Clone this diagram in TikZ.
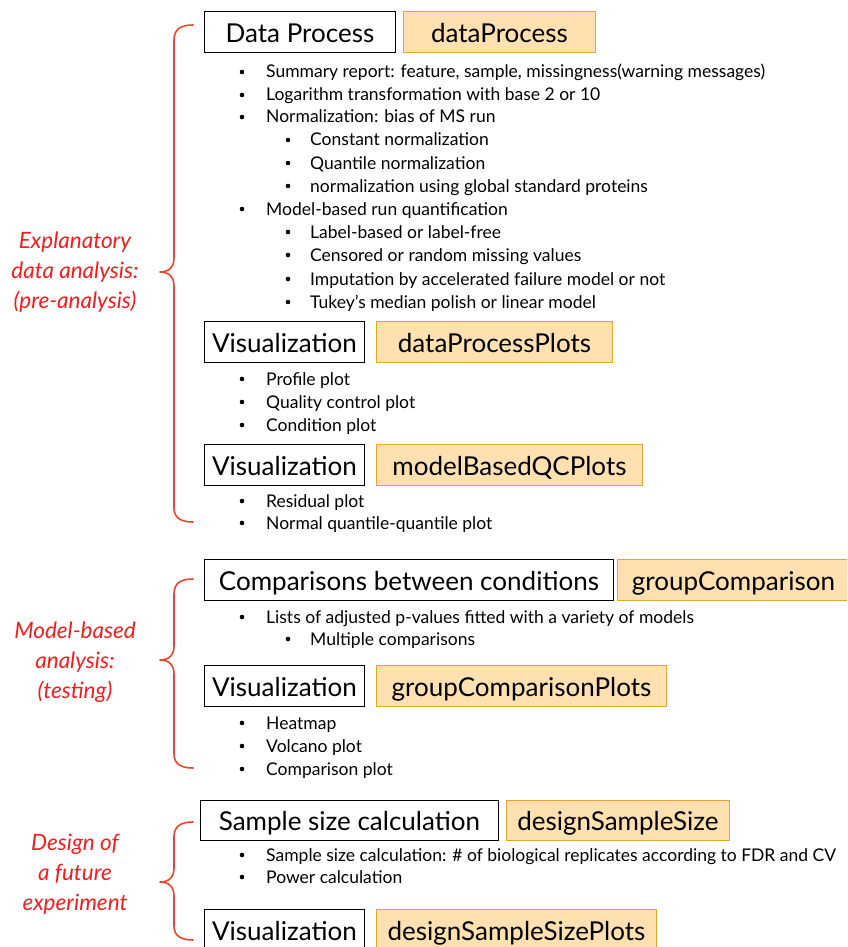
\documentclass[tikz,border=0pt]{standalone}
\usepackage{fontspec}
\setmainfont{Lato}
\definecolor{bracered}{HTML}{E8472B}
\definecolor{labelred}{HTML}{F51C1C}
\definecolor{fnfill}{HTML}{FFE0B0}
\definecolor{fnedge}{HTML}{E4A436}
\tikzset{
  stagebox/.style={draw=black, line width=0.9pt, fill=white, rectangle, anchor=north west,
    inner sep=0pt, font=\fontsize{26}{30}\selectfont, text height=22pt, text depth=1pt},
  fnbox/.style={stagebox, draw=fnedge, fill=fnfill},
  itemtext/.style={anchor=west, inner sep=0pt, font=\fontsize{17.5}{21}\selectfont,
    text height=13.5pt, text depth=3.5pt},
  dot/.style={circle, fill=black, inner sep=0pt, minimum size=4.6pt},
  grouplabel/.style={align=center, text=labelred, inner sep=0pt,
    font=\fontsize{22.5}{30}\selectfont\itshape},
  bracepath/.style={draw=bracered, line width=1.6pt, line cap=round, line join=round}
}
\begin{document}
\begin{tikzpicture}[x=1pt, y=-1pt]
\useasboundingbox (0,0) rectangle (847,947);
\clip (0,0) rectangle (847,947);

% ---------- stage and function boxes ----------
\node[stagebox, minimum width=191pt, minimum height=41pt] (dp) at (204,11) {Data Process};
\node[fnbox, minimum width=192pt, minimum height=41pt] (dpfn) at (403,11) {dataProcess};

\node[stagebox, minimum width=160pt, minimum height=41pt] (vis1) at (204,321) {Visualization};
\node[fnbox, minimum width=236pt, minimum height=41pt] (dppfn) at (376,321) {dataProcessPlots};

\node[stagebox, minimum width=160pt, minimum height=41pt] (vis2) at (204,444) {Visualization};
\node[fnbox, minimum width=266pt, minimum height=41pt] (qcfn) at (376,444) {modelBasedQCPlots};

\node[stagebox, minimum width=409pt, minimum height=41pt] (cmp) at (204,559) {Comparisons between conditions};
\node[fnbox, minimum width=232pt, minimum height=41pt] (gcfn) at (617,559) {groupComparison};

\node[stagebox, minimum width=160pt, minimum height=41pt] (vis3) at (204,665) {Visualization};
\node[fnbox, minimum width=290pt, minimum height=41pt] (gcpfn) at (376,665) {groupComparisonPlots};

\node[stagebox, minimum width=298pt, minimum height=40pt] (ss) at (200,800) {Sample size calculation};
\node[fnbox, minimum width=223pt, minimum height=40pt] (ssfn) at (506,800) {designSampleSize};

\node[stagebox, minimum width=160pt, minimum height=41pt] (vis4) at (204,909) {Visualization};
\node[fnbox, minimum width=280pt, minimum height=41pt] (sspfn) at (376,909) {designSampleSizePlots};

% ---------- bullet lists (level 1: x=242/266, level 2: x=288/310) ----------
\foreach \y/\t [count=\k] in {
  {73/Summary report: feature, sample, missingness(warning messages)},
  {96/Logarithm transformation with base 2 or 10},
  {118/Normalization: bias of MS run},
  {210/Model-based run quantification},
  {380/Profile plot},
  {403/Quality control plot},
  {426/Condition plot},
  {502/Residual plot},
  {524/Normal quantile-quantile plot},
  {618/Lists of adjusted p-values fitted with a variety of models},
  {724/Heatmap},
  {747/Volcano plot},
  {770/Comparison plot},
  {856/Sample size calculation: \# of biological replicates according to FDR and CV},
  {878/Power calculation}}
{
  \node[dot] (b\k) at (242,\y-1) {};
  \node[itemtext] (t\k) at (266,\y) {\t};
}
\foreach \y/\t [count=\k] in {
  {141/Constant normalization},
  {164/Quantile normalization},
  {187/normalization using global standard proteins},
  {233/Label-based or label-free},
  {256/Censored or random missing values},
  {280/Imputation by accelerated failure model or not},
  {303/Tukey’s median polish or linear model},
  {640/Multiple comparisons}}
{
  \node[dot] (sb\k) at (288,\y-1) {};
  \node[itemtext] (st\k) at (310,\y) {\t};
}

% ---------- group labels ----------
\node[grouplabel] (g1) at (75,272) {Explanatory\\data analysis:\\(pre-analysis)};
\node[grouplabel] (g2) at (75,662) {Model-based\\analysis:\\(testing)};
\node[grouplabel] (g3) at (75,874) {Design of\\a future\\experiment};

% ---------- braces ----------
\draw[bracepath] (193,25) .. controls (181,25) and (174,29) .. (174,40) -- (174,258)
  .. controls (174,267) and (169,272) .. (160,272)
  .. controls (169,272) and (174,277) .. (174,286) -- (174,508)
  .. controls (174,518) and (181,522) .. (193,522);
\draw[bracepath] (193,579) .. controls (181,579) and (174,583) .. (174,594) -- (174,646)
  .. controls (174,655) and (169,660) .. (160,660)
  .. controls (169,660) and (174,665) .. (174,674) -- (174,754)
  .. controls (174,764) and (181,768) .. (193,768);
\draw[bracepath] (193,822) .. controls (181,822) and (174,826) .. (174,837) -- (174,868)
  .. controls (174,877) and (169,882) .. (160,882)
  .. controls (169,882) and (174,887) .. (174,896) -- (174,926)
  .. controls (174,936) and (181,940) .. (193,940);
\end{tikzpicture}
\end{document}
